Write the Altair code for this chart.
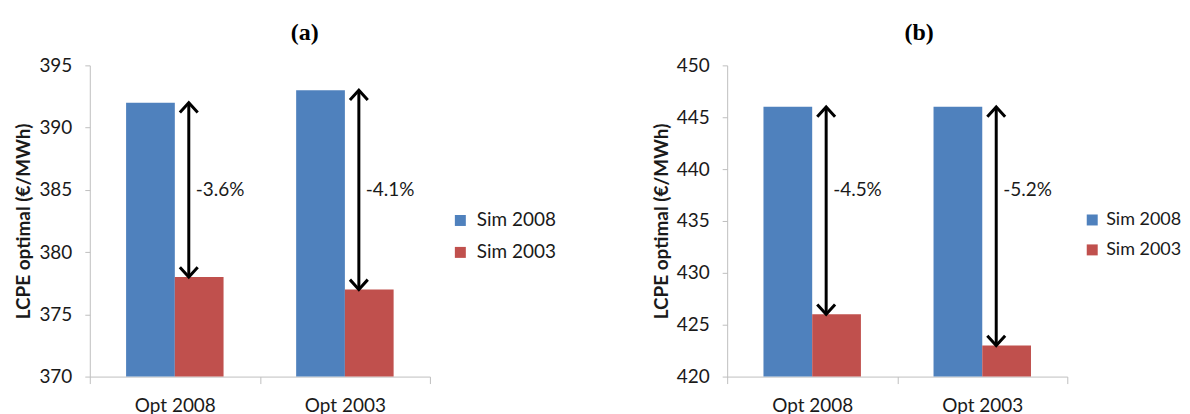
import altair as alt
import pandas as pd

categories = ["Opt 2008", "Opt 2003"]
series = ["Sim 2008", "Sim 2003"]
colors = ["#4F81BD", "#C0504D"]

a_sim2008 = [392, 393]
a_sim2003 = [378, 377]
a_changes = ["-3.6%", "-4.1%"]
a_label_at = [385, 385]
a_ticks = [370, 375, 380, 385, 390, 395]

b_sim2008 = [446, 446]
b_sim2003 = [426, 423]
b_changes = ["-4.5%", "-5.2%"]
b_label_at = [438, 438]
b_ticks = [420, 425, 430, 435, 440, 445, 450]

FONT = "Lato"
TXT = "#1a1a1a"
AX = "#BFBFBF"
W, H = 341, 312


def panel(title, title_dx, s2008, s2003, changes, label_at, ticks,
          leg_offset, leg_font, leg_label_offset):
    bars_df = pd.DataFrame({
        "cat": categories * 2,
        "series": [series[0]] * 2 + [series[1]] * 2,
        "value": s2008 + s2003,
    })
    arrows_df = pd.DataFrame({
        "cat": categories, "top": s2008, "bottom": s2003,
        "label": changes, "label_y": label_at,
    })
    yscale = alt.Scale(domain=[ticks[0], ticks[-1]], zero=False, nice=False)
    yaxis = alt.Axis(
        values=ticks, title="LCPE optimal (€/MWh)", grid=False,
        domainColor=AX, tickColor=AX, tickSize=5, labelPadding=13,
        labelFont=FONT, labelFontSize=19, labelColor=TXT,
        titleFont=FONT, titleFontSize=19, titleFontWeight="bold",
        titleColor=TXT, titlePadding=5,
    )
    xaxis = alt.Axis(
        title=None, labelAngle=0, tickBand="extent", grid=False,
        domainColor=AX, tickColor=AX, tickSize=7, labelPadding=13,
        labelFont=FONT, labelFontSize=19, labelColor=TXT,
    )
    xenc = alt.X("cat:N", sort=categories,
                 scale=alt.Scale(paddingInner=0, paddingOuter=0), axis=xaxis)

    bars = alt.Chart(bars_df).mark_bar().encode(
        x=xenc,
        xOffset=alt.XOffset("series:N", sort=series,
                            scale=alt.Scale(paddingInner=0, paddingOuter=0.745)),
        y=alt.Y("value:Q", scale=yscale, axis=yaxis),
        y2=alt.datum(ticks[0]),
        color=alt.Color(
            "series:N", sort=series,
            scale=alt.Scale(domain=series, range=colors),
            legend=alt.Legend(
                title=" ", titleFontSize=1, titlePadding=145,
                orient="right", offset=leg_offset,
                symbolType="square", symbolSize=121, symbolStrokeWidth=0,
                symbolOpacity=1, labelFont=FONT, labelFontSize=leg_font,
                labelColor=TXT, rowPadding=12, labelOffset=leg_label_offset,
                padding=0,
            ),
        ),
    )
    rule = alt.Chart(arrows_df).mark_rule(
        color="black", strokeWidth=3, xOffset=14
    ).encode(
        x=xenc,
        y=alt.Y("top:Q", scale=yscale, axis=yaxis),
        y2="bottom:Q",
    )
    head_up = alt.Chart(arrows_df).mark_point(
        shape="M-1,1.1L0,0L1,1.1", size=320, filled=False, stroke="black",
        strokeWidth=3, xOffset=14, opacity=1,
    ).encode(x=xenc, y=alt.Y("top:Q", scale=yscale, axis=yaxis))
    head_down = alt.Chart(arrows_df).mark_point(
        shape="M-1,-1.1L0,0L1,-1.1", size=320, filled=False, stroke="black",
        strokeWidth=3, xOffset=14, opacity=1,
    ).encode(x=xenc, y=alt.Y("bottom:Q", scale=yscale, axis=yaxis))
    text = alt.Chart(arrows_df).mark_text(
        align="left", baseline="middle", dx=21, font=FONT, fontSize=19, color=TXT,
    ).encode(
        x=xenc,
        y=alt.Y("label_y:Q", scale=yscale, axis=yaxis),
        text="label:N",
    )
    return alt.layer(bars, rule, head_up, head_down, text).properties(
        width=W, height=H,
        title=alt.TitleParams(
            title, font="Liberation Serif", fontSize=24, fontWeight="bold",
            color="black", anchor="middle", frame="group", dx=title_dx, offset=11,
        ),
    )


pa = panel("(a)", 45, a_sim2008, a_sim2003, a_changes, a_label_at, a_ticks, 21, 19, 7)
pb = panel("(b)", 22, b_sim2008, b_sim2003, b_changes, b_label_at, b_ticks, 16, 18, 5)

chart = alt.hconcat(pa, pb, spacing=95).resolve_scale(
    x="independent", y="independent", xOffset="independent", color="independent"
).resolve_legend(color="independent").configure_view(stroke=None).properties(
    padding={"left": 6, "top": 13, "right": 0, "bottom": 0},
    background="white",
)

chart.save("out.html", embed_options={"renderer": "svg", "actions": False})
